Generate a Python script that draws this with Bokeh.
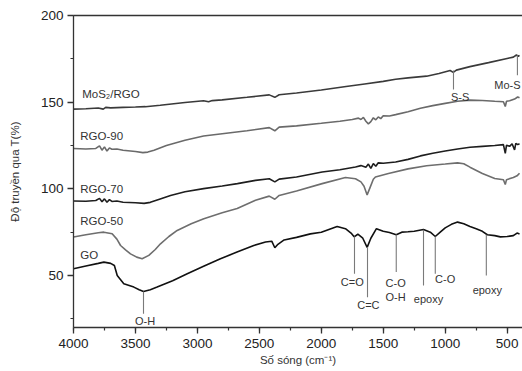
from bokeh.plotting import figure
from bokeh.models import Range1d, SingleIntervalTicker, LinearAxis, FixedTicker
from bokeh.embed import file_html
from bokeh.resources import INLINE
from bokeh.core.properties import value

FONT = "Liberation Sans"

# ---- data ----
mos2_wn = [4000, 3900, 3800, 3760, 3740, 3700, 3600, 3500, 3420, 3300, 3100, 2950, 2910, 2880, 2800,
           2600, 2420, 2375, 2340, 2200, 2000, 1800, 1650, 1500, 1400, 1300, 1150, 1050, 960, 935,
           910, 800, 650, 500, 450, 425, 410, 400]
mos2_t = [146.0, 146.2, 146.6, 146.0, 147.0, 146.7, 147.0, 147.2, 147.4, 148.2, 149.8, 150.8, 150.2,
          150.9, 151.3, 152.8, 154.2, 152.8, 154.3, 155.3, 157.0, 159.0, 160.5, 162.0, 163.2, 164.0,
          165.0, 166.5, 168.3, 167.2, 168.5, 170.5, 172.8, 175.2, 176.0, 177.2, 176.5, 177.0]

rgo90_wn = [4000, 3900, 3820, 3790, 3770, 3750, 3730, 3710, 3690, 3650, 3600, 3500, 3440, 3400, 3350,
            3250, 3100, 2950, 2800, 2600, 2420, 2375, 2340, 2200, 2000, 1850, 1750, 1700, 1680, 1660,
            1640, 1620, 1600, 1580, 1560, 1540, 1520, 1500, 1450, 1400, 1300, 1200, 1100, 1000, 900,
            800, 700, 600, 530, 515, 505, 480, 440, 415, 400]
rgo90_t = [123.3, 123.0, 123.3, 124.8, 122.3, 124.2, 121.8, 123.6, 122.8, 123.0, 122.3, 121.5, 120.9,
           121.2, 122.3, 125.0, 128.0, 130.5, 131.8, 133.5, 135.3, 133.5, 135.6, 136.3, 137.8, 139.0,
           140.0, 140.8, 140.0, 141.2, 139.0, 137.5, 138.8, 141.0, 139.8, 141.5, 140.5, 142.2, 142.0,
           142.8, 144.5, 146.5, 148.0, 149.3, 150.5, 151.2, 151.0, 150.5, 150.2, 147.5, 150.5, 150.8,
           151.8, 153.0, 152.5]

rgo70_wn = [4000, 3900, 3820, 3790, 3770, 3750, 3730, 3710, 3690, 3650, 3600, 3500, 3430, 3380, 3300,
            3217, 3100, 2950, 2800, 2677, 2531, 2420, 2375, 2340, 2200, 1993, 1850, 1724, 1680, 1640,
            1620, 1600, 1580, 1560, 1540, 1500, 1400, 1300, 1200, 1100, 1000, 900, 800, 700, 600, 530,
            515, 505, 480, 460, 440, 430, 415, 400]
rgo70_t = [93.0, 92.8, 93.3, 94.5, 92.5, 94.2, 92.3, 93.8, 92.7, 93.0, 92.3, 92.0, 91.6, 92.2, 94.2,
           96.2, 98.3, 100.1, 101.6, 103.0, 104.9, 105.8, 104.0, 105.6, 106.8, 109.7, 111.0, 112.6,
           113.4, 112.5, 114.3, 111.8, 114.6, 113.0, 115.0, 114.8, 115.5, 117.0, 119.0, 120.5, 121.8,
           123.0, 124.0, 124.5, 125.0, 125.5, 120.5, 125.2, 124.5, 126.0, 122.5, 126.2, 125.5, 126.0]

rgo50_wn = [4000, 3900, 3800, 3755, 3688, 3650, 3620, 3580, 3540, 3490, 3446, 3392, 3340, 3298, 3230,
            3163, 3050, 2948, 2800, 2679, 2531, 2420, 2375, 2340, 2200, 1993, 1805, 1724, 1680, 1655,
            1630, 1605, 1580, 1563, 1458, 1300, 1150, 1000, 900, 850, 800, 700, 600, 530, 515, 505,
            450, 420, 400]
rgo50_t = [72.2, 73.5, 74.7, 75.0, 74.1, 71.0, 67.3, 64.8, 62.5, 60.6, 59.7, 61.6, 65.0, 68.3, 72.5,
           76.0, 79.8, 82.8, 86.2, 88.6, 93.4, 95.8, 94.0, 96.2, 98.8, 103.0, 106.5, 105.8, 104.0,
           101.5, 96.5, 101.0, 105.5, 106.8, 108.8, 111.5, 113.3, 114.3, 115.0, 114.5, 112.5, 108.8,
           106.0, 105.2, 102.5, 105.3, 106.5, 107.5, 109.0]

go_wn = [4000, 3900, 3800, 3755, 3700, 3670, 3647, 3594, 3513, 3470, 3435, 3380, 3325, 3200, 3082,
         2950, 2814, 2680, 2545, 2450, 2400, 2375, 2350, 2300, 2200, 2088, 2000, 1872, 1805, 1760,
         1735, 1705, 1665, 1630, 1600, 1555, 1500, 1450, 1395, 1350, 1300, 1250, 1175, 1120, 1080,
         1040, 1000, 950, 900, 850, 800, 750, 700, 660, 600, 555, 500, 450, 420, 400]
go_t = [53.9, 55.5, 57.0, 57.7, 57.0, 55.8, 50.0, 45.2, 43.3, 41.8, 40.8, 41.8, 43.3, 47.0, 51.0,
        55.3, 59.7, 63.5, 67.3, 69.3, 69.8, 66.0, 68.0, 70.5, 72.0, 74.0, 75.0, 78.3, 77.0, 74.5,
        72.3, 73.8, 71.5, 66.2, 71.5, 77.0, 75.5, 74.8, 73.5, 75.0, 75.2, 75.5, 76.5, 75.0, 72.5,
        75.0, 77.5, 79.5, 80.8, 79.8, 78.3, 77.0, 75.5, 73.5, 73.0, 72.3, 72.5, 73.0, 74.5, 74.0]

series_names = ["MoS\u2082/RGO", "RGO-90", "RGO-70", "RGO-50", "GO"]
series_label_x = [3930, 3945, 3945, 3945, 3945]
series_label_y = [155.0, 130.4, 100.1, 81.4, 62.0]

# band marker lines
marker_wn = [3435, 1732, 1627, 1395, 1175, 1080, 668, 933, 417]
marker_top = [40.8, 72.5, 66.4, 73.7, 76.4, 72.5, 73.5, 168.3, 177.0]
marker_bottom = [28.0, 51.0, 37.5, 52.0, 44.2, 51.0, 50.0, 157.3, 165.6]

band_text = ["O-H", "C=O", "C=C", "C-O", "O-H", "epoxy", "C-O", "epoxy", "S-S", "Mo-S"]
band_x = [3423, 1750, 1620, 1400, 1400, 1135, 1000, 660, 880, 473]
band_y = [24.0, 46.0, 32.7, 45.6, 37.5, 36.6, 47.7, 41.6, 153.0, 159.8]

x_ticks_major = 500
y_ticks_major = 50

# ---- figure ----
p = figure(width=522, height=371, output_backend="svg", toolbar_location=None,
           x_range=Range1d(4000, 376), y_range=Range1d(20, 200),
           min_border_left=73, min_border_right=0, min_border_top=15, min_border_bottom=44,
           x_axis_label="S\u1ed1 s\u00f3ng (cm\u207b\u00b9)", y_axis_label="\u0110\u1ed9 truy\u1ec1n qua T(%)")
p.background_fill_color = "white"
p.border_fill_color = "white"
p.outline_line_color = None
p.grid.visible = False

p.xaxis.ticker = SingleIntervalTicker(interval=x_ticks_major, num_minor_ticks=2)
p.yaxis.ticker = SingleIntervalTicker(interval=y_ticks_major, num_minor_ticks=2)

for ax in (p.xaxis[0], p.yaxis[0]):
    ax.axis_line_color = "#333333"
    ax.axis_line_width = 1.3
    ax.major_tick_line_color = "#333333"
    ax.minor_tick_line_color = "#333333"
    ax.major_tick_line_width = 1.3
    ax.minor_tick_line_width = 1.2
    ax.major_tick_out = 6
    ax.major_tick_in = 0
    ax.minor_tick_out = 3
    ax.minor_tick_in = 0
    ax.major_label_text_font = FONT
    ax.major_label_text_font_size = "13.5px"
    ax.major_label_text_color = "#222222"
    ax.axis_label_text_font = FONT
    ax.axis_label_text_font_size = "11.5px"
    ax.axis_label_text_font_style = "normal"
    ax.axis_label_text_color = "#333333"

p.xaxis.major_label_standoff = 5
p.xaxis.axis_label_standoff = 3
p.yaxis.major_label_standoff = 4
p.yaxis.axis_label_standoff = 17

top = LinearAxis(ticker=FixedTicker(ticks=[]), axis_line_color="#333333", axis_line_width=1.3,
                 major_tick_line_color=None, minor_tick_line_color=None,
                 major_label_standoff=0, major_tick_out=0, minor_tick_out=0)
p.add_layout(top, "above")

lw = 1.6
p.line(mos2_wn, mos2_t, line_color="#3a3a3a", line_width=lw)
p.line(rgo90_wn, rgo90_t, line_color="#6a6a6a", line_width=lw)
p.line(rgo70_wn, rgo70_t, line_color="#1e1e1e", line_width=lw)
p.line(rgo50_wn, rgo50_t, line_color="#6e6e6e", line_width=lw)
p.line(go_wn, go_t, line_color="#111111", line_width=lw)

p.segment(x0=marker_wn, y0=marker_top, x1=marker_wn, y1=marker_bottom,
          line_color="#7a7a7a", line_width=1.1)

p.text(x=series_label_x, y=series_label_y, text=series_names,
       text_font=value(FONT), text_font_size="11.5px", text_color="#333333",
       text_align="left", text_baseline="middle")

p.text(x=band_x[:-1], y=band_y[:-1], text=band_text[:-1],
       text_font=value(FONT), text_font_size="11px", text_color="#333333",
       text_align="center", text_baseline="middle")
# last band label sits against the right edge of the frame
p.text(x=band_x[-1:], y=band_y[-1:], text=band_text[-1:],
       text_font=value(FONT), text_font_size="11px", text_color="#333333",
       text_align="center", text_baseline="middle", x_offset=-3)

open("out.html", "w").write(file_html(p, INLINE))
